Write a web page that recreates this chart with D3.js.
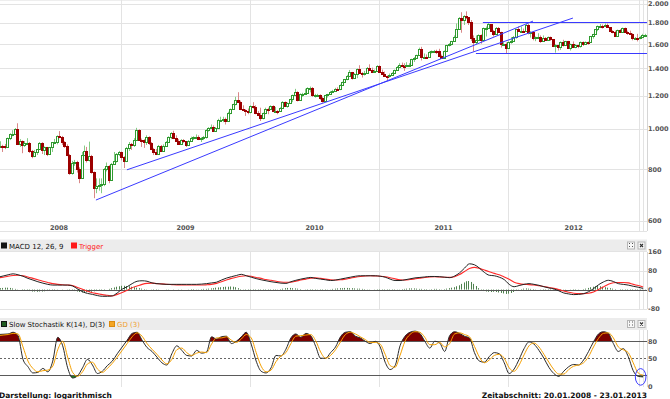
<!DOCTYPE html>
<html>
<head>
<meta charset="utf-8">
<script src="https://cdnjs.cloudflare.com/ajax/libs/d3/7.8.5/d3.min.js"></script>
<style>
  body { margin: 0; background: #fff; }
  svg { display: block; font-family: "DejaVu Sans", Verdana, sans-serif; }
</style>
</head>
<body>
<svg id="chart" width="670" height="399"></svg>
<script>
// weekly candles, one row per week: [open, high, low, close]
const candles2008 = [
  [882,915,866,906],[906,934,900,912],[912,916,880,908],[908,920,894,907],[907,953,902,950],[950,976,940,971],
  [971,993,960,972],[972,1005,968,1001],[1001,1032,915,920],[920,945,905,933],[933,938,874,913],
  [913,935,905,925],[925,950,915,925],[925,930,875,885],[885,890,850,860],
  [860,890,855,880],[880,895,865,893],[893,930,890,924],[924,929,870,888],
  [888,907,865,903],[903,905,860,872],[872,905,868,904],[904,930,880,928],[928,946,920,932],
  [932,965,918,963],[963,988,950,957],[957,962,915,929],[929,935,900,912],
  [912,918,860,864],[864,870,775,785],[785,838,776,828],[828,842,815,833],
  [833,838,785,801],[801,808,740,762],[762,880,760,866],[866,912,860,885],[885,905,830,842],
  [842,932,835,859],[859,866,780,786],[786,790,681,722],[722,760,700,728],
  [728,760,710,734],[734,760,700,738],[738,805,728,800],[800,830,790,815],
  [815,818,740,753],[753,828,750,822],[822,880,820,837],[837,875,830,872],[872,885,860,880]
];
const candles2009 = [
  [880,882,840,854],[854,860,805,836],[836,905,832,900],[900,930,885,920],
  [920,925,890,913],[913,950,905,942],[942,1006,940,995],[995,998,935,942],
  [942,948,905,938],[938,945,900,930],[930,965,915,955],[955,960,915,923],[923,930,895,897],
  [897,900,865,882],[882,895,865,870],[870,915,868,911],[911,915,880,884],
  [884,918,880,912],[912,935,908,930],[930,960,925,956],[956,982,945,979],
  [979,990,945,950],[950,965,930,933],[933,945,915,920],[920,945,915,940],[940,945,925,933],
  [933,935,905,913],[913,940,910,937],[937,958,932,952],[952,960,940,955],
  [955,970,945,957],[957,965,940,947],[947,955,930,950],[950,962,940,955],[955,998,948,996],
  [996,1010,985,1006],[1006,1025,1000,1009],[1009,1020,985,991],[991,1010,985,1003],
  [1003,1058,1000,1050],[1050,1070,1040,1051],[1051,1070,1038,1056],[1056,1065,1025,1045],
  [1045,1100,1040,1095],[1095,1120,1085,1118],[1118,1150,1115,1146],[1146,1195,1140,1177],[1177,1226,1160,1162],
  [1162,1170,1110,1118],[1118,1140,1105,1110],[1110,1115,1075,1105],[1105,1120,1085,1096]
];
const candles2010 = [
  [1096,1140,1090,1138],[1138,1160,1120,1131],[1131,1140,1085,1090],[1090,1105,1075,1083],
  [1083,1125,1045,1064],[1064,1095,1055,1091],[1091,1125,1085,1119],[1119,1125,1085,1117],
  [1117,1140,1112,1134],[1134,1140,1098,1102],[1102,1130,1095,1107],[1107,1110,1085,1104],[1104,1128,1100,1124],
  [1124,1167,1120,1161],[1161,1165,1130,1137],[1137,1158,1125,1154],[1154,1182,1150,1180],
  [1180,1210,1160,1207],[1207,1249,1200,1228],[1228,1232,1165,1177],[1177,1218,1170,1212],[1212,1222,1195,1217],
  [1217,1250,1210,1220],[1220,1260,1215,1256],[1256,1265,1225,1256],[1256,1262,1195,1209],
  [1209,1215,1190,1210],[1210,1215,1195,1210],[1210,1212,1175,1188],[1188,1195,1157,1169],
  [1169,1208,1165,1204],[1204,1215,1190,1215],[1215,1235,1210,1227],[1227,1242,1222,1236],[1236,1256,1235,1247],
  [1247,1260,1240,1246],[1246,1280,1240,1275],[1275,1300,1270,1298],[1298,1320,1290,1318],
  [1318,1350,1310,1345],[1345,1387,1340,1369],[1369,1372,1315,1326],[1326,1362,1320,1358],
  [1358,1398,1325,1394],[1394,1424,1360,1367],[1367,1370,1330,1354],[1354,1380,1345,1362],[1362,1410,1360,1406],
  [1406,1431,1380,1385],[1385,1405,1365,1375],[1375,1390,1370,1380],[1380,1424,1375,1421]
];
const candles2011 = [
  [1421,1424,1365,1369],[1369,1390,1360,1360],[1360,1375,1340,1342],[1342,1345,1309,1341],[1341,1360,1330,1348],
  [1348,1370,1345,1361],[1361,1390,1355,1388],[1388,1418,1385,1409],[1409,1440,1405,1429],
  [1429,1445,1410,1420],[1420,1440,1380,1418],[1418,1448,1415,1428],[1428,1440,1410,1429],
  [1429,1476,1425,1474],[1474,1490,1450,1486],[1486,1510,1484,1504],[1504,1570,1500,1556],
  [1556,1577,1462,1491],[1491,1520,1480,1493],[1493,1512,1480,1492],[1492,1538,1490,1536],[1536,1545,1520,1542],
  [1542,1550,1525,1542],[1542,1552,1515,1539],[1539,1560,1495,1500],[1500,1510,1478,1485],
  [1485,1545,1480,1542],[1542,1595,1540,1591],[1591,1610,1580,1601],[1601,1630,1590,1628],
  [1628,1680,1620,1663],[1663,1795,1660,1744],[1744,1860,1740,1852],[1852,1911,1705,1828],[1828,1880,1780,1876],
  [1876,1920,1840,1856],[1856,1860,1780,1813],[1813,1830,1630,1657],[1657,1680,1535,1623],
  [1623,1680,1600,1636],[1636,1690,1630,1683],[1683,1690,1605,1642],[1642,1755,1640,1747],[1747,1765,1670,1753],
  [1753,1802,1745,1788],[1788,1790,1715,1724],[1724,1730,1670,1697],[1697,1760,1690,1746],
  [1746,1760,1705,1713],[1713,1715,1570,1598],[1598,1625,1590,1606],[1606,1615,1523,1566]
];
const candles2012 = [
  [1566,1625,1560,1617],[1617,1665,1605,1630],[1630,1675,1625,1665],[1665,1740,1650,1737],[1737,1765,1715,1725],
  [1725,1765,1715,1725],[1725,1745,1705,1722],[1722,1790,1720,1776],[1776,1792,1690,1710],
  [1710,1720,1660,1711],[1711,1715,1635,1656],[1656,1670,1627,1662],[1662,1700,1655,1668],
  [1668,1680,1612,1631],[1631,1680,1625,1660],[1660,1665,1630,1642],[1642,1670,1635,1663],[1663,1670,1630,1645],
  [1645,1645,1575,1580],[1580,1600,1527,1592],[1592,1595,1545,1573],[1573,1625,1550,1622],
  [1622,1640,1580,1592],[1592,1630,1585,1626],[1626,1630,1562,1571],[1571,1605,1545,1598],
  [1598,1625,1575,1579],[1579,1600,1565,1590],[1590,1595,1565,1583],[1583,1625,1570,1620],[1620,1625,1585,1605],
  [1605,1625,1600,1621],[1621,1625,1595,1617],[1617,1675,1615,1672],[1672,1695,1650,1690],
  [1690,1740,1685,1737],[1737,1775,1720,1772],[1772,1790,1755,1774],[1774,1785,1745,1772],
  [1772,1796,1765,1780],[1780,1795,1755,1758],[1758,1760,1718,1724],[1724,1730,1700,1712],[1712,1725,1672,1677],
  [1677,1735,1672,1730],[1730,1740,1710,1714],[1714,1755,1710,1751],[1751,1755,1705,1712],
  [1712,1725,1685,1705],[1705,1725,1690,1697],[1697,1700,1635,1657],[1657,1665,1640,1658],[1658,1695,1625,1656]
];
const candles2013 = [
  [1656,1675,1645,1662],[1662,1695,1655,1684],[1684,1695,1675,1686]
];

const yearLabels = ["2008", "2009", "2010", "2011", "2012"];
const priceTicks = [600, 800, 1000, 1200, 1400, 1600, 1800, 2000];
const macdTicks = [-80, 0, 80, 160];
const stochTicks = [0, 50, 80];

// trend lines: [week index, price] -> [week index, price]
const trendLines = [
  [[39.4, 674], [215.6, 1819]],
  [[51.9, 797], [231.7, 1850]]
];
// horizontal levels: [start week index, price]
const levels = [[195.4, 1805], [192.6, 1522]];

// MACD 12,26,9 and trigger, one value every 2 weeks
const macdVals = [
  52,57,62,66,62,56,47,40,33,27, 22,19,19,19,19,15,3,-9,-16,-20,
  -25,-28,-28,-26,-14,2,12,25,35,37, 35,28,25,23,22,22,22,22,22,22,
  22,23,25,28,31,40,48,54,59,64, 58,52,46,41,37,33,30,27,26,33,
  39,44,48,51,47,44,41,38,40,44, 48,52,56,58,58,58,58,56,52,44,
  38,38,41,45,49,51,53,55,55,54, 52,50,57,70,90,108,104,90,72,60,
  58,52,42,22,12,17,22,25,22,18, 12,7,3,-5,-14,-18,-21,-20,-17,-9,
  4,20,32,39,34,25,22,19,14,10,5
];
const triggerVals = [
  49,52,56,59,60,58,53,47,41,35, 30,25,22,20,19,17,9,1,-7,-13,
  -17,-21,-24,-27,-20,-12,-3,8,15,22, 26,27,25,24,22,21,20,20,19,19,
  19,19,20,22,26,33,40,47,52,56, 58,56,51,47,42,39,35,32,31,31,
  35,40,44,48,49,47,44,41,40,41, 44,48,52,55,57,58,57,56,54,50,
  45,41,40,42,45,48,51,53,54,53, 52,51,54,63,76,88,93,89,82,75,
  68,62,53,43,31,25,22,21,19,16, 13,9,5,0,-6,-11,-15,-17,-17,-15,
  -10,0,11,22,29,30,30,28,22,17,11
];
// histogram, one bar per week
const macdHist = [
  5,6,7,8,8,7,5,3,1,0, -2,-3,-5,-6,-8,-8,-9,-8,-8,-7,
  -6,-5,-3,-2,-1,0,1,0,-1,-2, -4,-6,-8,-10,-12,-12,-11,-10,-9,-7,
  -6,-5,-4,-2,0,3,6,9,12,14, 16,16,15,14,12,10,8,6,4,2,
  1,0,-1,-2,-2,-1,0,0,1,1, 0,-1,0,1,1,0,0,1,2,2,
  1,1,2,3,3,4,5,6,8,9, 10,11,12,12,13,12,10,6,2,-1,
  -3,-4,-5,-5,-6,-6,-5,-5,-4,-4, -3,-3,-2,-1,2,4,6,7,7,6,
  5,4,2,0,-1,-2,-2,-3,-2,-1, -2,-3,-2,-1,1,3,4,5,6,6,
  7,7,6,6,5,4,4,3,2,1, 1,0,-1,-3,-4,-5,-6,-5,-4,-3,
  -2,-1,1,2,3,4,5,5,5,4, 3,3,2,2,1,2,3,3,2,1,
  2,4,6,8,10,14,18,24,30,35, 36,32,24,15,6,-3,-6,-8,-9,-10,
  -9,-10,-12,-14,-16,-18,-17,-14,-10,-5, -1,2,4,5,4,3,2,1,0,-1,
  -2,-3,-4,-4,-3,-3,-2,-2,-1,-1, 0,-1,-2,-2,-1,0,2,4,7,10,
  12,14,15,14,12,10,8,6,4,2, 0,-2,-3,-4,-4,-4,-3,-3,-2,-2,
  -1,-1
];

// Slow stochastic K(14) and D(3), one value every 2 weeks
const stochK = [
  92,92.5,93,96,90,48,35,24,25,32, 26,45,87,72,33,15,19,33,48,38,
  23,27,37,45,58,70,82,94,96,82, 69,62,52,42,38,58,72,64,55,54,
  64,59,61,88,84,88,89,76,80,88, 96,75,45,27,24,33,55,54,66,86,
  93,87,94,90,71,50,50,60,70,88, 96,97,89,86,80,76,80,70,43,30,
  37,72,89,96,98,94,80,68,80,77, 62,90,97,94,89,86,60,45,43,53,
  60,58,42,23,31,48,67,79,75,64, 50,34,23,18,27,35,39,38,47,62,
  79,93,97,94,76,62,67,53,28,18,17
];
const stochD = [
  90,91,92,94,93,70,45,32,26,28, 29,36,65,80,52,25,18,26,40,43,
  31,25,32,41,52,64,76,88,95,89, 76,66,57,47,40,48,65,68,60,55,
  59,61,60,75,86,86,88,82,78,84, 92,86,60,36,26,29,44,54,60,76,
  89,90,91,92,81,61,50,55,65,79, 92,96,93,88,83,78,78,75,57,37,
  34,55,80,92,97,96,87,74,74,78, 70,76,93,95,92,88,71,52,42,47,
  55,57,50,33,27,38,56,72,77,70, 57,43,30,22,22,30,36,38,42,53,
  70,85,94,95,86,70,65,60,42,24,20
];

const svg = d3.select("#chart");
const allCandles = [].concat(candles2008, candles2009, candles2010, candles2011, candles2012, candles2013);
const yearCounts = [candles2008, candles2009, candles2010, candles2011, candles2012, candles2013].map(a => a.length);

const plotRight = 647;
const x = d3.scaleLinear().domain([0, 261]).range([-1.8, 645.6]);
const y = d3.scaleLog().domain([600, 2000]).range([221, 4]);
const yM = d3.scaleLinear().domain([-80, 160]).range([308.7, 251.4]);
const yS = d3.scaleLinear().domain([0, 100]).range([386.5, 330]);

const de = d3.formatLocale({ decimal: ",", thousands: ".", grouping: [3], currency: ["", ""], minus: "-" });
const fmt = de.format(",d");

const gridColor = "#e3e3e3";
const axisFont = { size: "6.5px", color: "#555" };

// year boundaries (in week index) and label centers
const boundaries = [];
const centers = [];
let start = 0;
yearCounts.forEach((n, k) => {
  if (k > 0) boundaries.push(start - 0.5);
  centers.push(start + (n - 1) / 2);
  start += n;
});

function vGrid(y0, y1) {
  const g = svg.append("g").attr("stroke", gridColor);
  boundaries.forEach(b => {
    const px = Math.round(x(b)) + 0.5;
    g.append("line").attr("x1", px).attr("x2", px).attr("y1", y0).attr("y2", y1);
  });
  // current-week marker and right frame
  g.append("line").attr("x1", Math.round(x(260)) + 0.5).attr("x2", Math.round(x(260)) + 0.5)
    .attr("y1", y0).attr("y2", y1);
  g.append("line").attr("x1", plotRight + 0.5).attr("x2", plotRight + 0.5)
    .attr("y1", y0).attr("y2", y1).attr("stroke", "#d6d6d6");
}

function axisLabel(val, yy) {
  svg.append("text")
    .attr("x", plotRight + 1)
    .attr("y", yy + 2.4)
    .style("font-size", axisFont.size)
    .style("font-weight", "bold")
    .attr("fill", axisFont.color)
    .text(fmt(val));
}

// === main price panel ===
svg.append("line").attr("x1", 0).attr("x2", plotRight).attr("y1", 0.5).attr("y2", 0.5).attr("stroke", "#eeeeee");
priceTicks.forEach(v => {
  const py = Math.round(y(v)) + 0.5;
  svg.append("line").attr("x1", 0).attr("x2", plotRight).attr("y1", py).attr("y2", py).attr("stroke", gridColor);
  axisLabel(v, y(v));
});
svg.append("line").attr("x1", 0).attr("x2", plotRight).attr("y1", 231.5).attr("y2", 231.5).attr("stroke", gridColor);
vGrid(0, 231);

yearLabels.forEach((t, k) => {
  svg.append("text")
    .attr("x", x(centers[k]))
    .attr("y", 229.5)
    .attr("text-anchor", "middle")
    .style("font-size", axisFont.size)
    .style("font-weight", "bold")
    .attr("fill", axisFont.color)
    .text(t);
});

// candles
const gC = svg.append("g");
allCandles.forEach((d, i) => {
  const [o, h, l, c] = d;
  const px = Math.round(x(i));
  const up = c >= o;
  gC.append("line")
    .attr("x1", px - 0.5).attr("x2", px - 0.5)
    .attr("y1", y(h)).attr("y2", y(l))
    .attr("stroke", up ? "#86cc86" : "#d98888");
  const top = Math.round(y(Math.max(o, c)));
  const bot = Math.round(y(Math.min(o, c)));
  gC.append("rect")
    .attr("x", px - 1.5)
    .attr("y", top + 0.5)
    .attr("width", 2)
    .attr("height", Math.max(bot - top, 1))
    .attr("fill", up ? "#ffffff" : "#9c0000")
    .attr("stroke", up ? "#2f9a2f" : "#9c0000");
});

// trend lines and levels
const gT = svg.append("g").attr("stroke", "#3a3aff").attr("stroke-width", 1).attr("fill", "none");
trendLines.forEach(([a, b]) => {
  gT.append("line")
    .attr("x1", x(a[0])).attr("y1", y(a[1]))
    .attr("x2", x(b[0])).attr("y2", y(b[1]));
});
levels.forEach(([i0, p]) => {
  const py = Math.round(y(p)) + 0.5;
  gT.append("line").attr("x1", x(i0)).attr("x2", plotRight).attr("y1", py).attr("y2", py);
});

// === panel headers ===
function header(top, items) {
  svg.append("rect").attr("x", 0).attr("y", top).attr("width", plotRight).attr("height", 12).attr("fill", "#ececec");
  let cx = 1;
  items.forEach(it => {
    svg.append("rect").attr("x", cx + 0.5).attr("y", top + 3.5).attr("width", 5).attr("height", 5)
      .attr("fill", it.box).attr("stroke", it.border);
    svg.append("text").attr("x", cx + 8).attr("y", top + 9.3)
      .style("font-size", "7px").attr("fill", it.color).text(it.text);
    cx = it.next;
  });
  // small buttons on the right
  [627, 637.5].forEach((bx, k) => {
    svg.append("rect").attr("x", bx + 0.5).attr("y", top + 2.5).attr("width", 7).attr("height", 7)
      .attr("fill", "#f8f8f8").attr("stroke", "#b5b5b5");
    if (k === 0) {
      [[2, 3], [5, 3], [2, 6], [5, 6]].forEach(([dx, dy]) => {
        svg.append("rect").attr("x", bx + dx).attr("y", top + dy + 0.5).attr("width", 1).attr("height", 1).attr("fill", "#555");
      });
    } else {
      svg.append("path")
        .attr("d", `M${bx + 2.5},${top + 4.5}L${bx + 5.5},${top + 7.5}M${bx + 5.5},${top + 4.5}L${bx + 2.5},${top + 7.5}`)
        .attr("stroke", "#333").attr("stroke-width", 1.1);
    }
  });
}

// === MACD panel ===
header(239.5, [
  { box: "#111", border: "#111", color: "#111", text: "MACD 12, 26, 9", next: 71 },
  { box: "#ff1a1a", border: "#ff1a1a", color: "#ff1a1a", text: "Trigger", next: 0 }
]);
macdTicks.forEach(v => {
  const py = Math.round(yM(v)) + 0.5;
  if (v !== 0) svg.append("line").attr("x1", 0).attr("x2", plotRight).attr("y1", py).attr("y2", py).attr("stroke", gridColor);
  axisLabel(v, yM(v));
});
vGrid(252, 309);

const gH = svg.append("g").attr("fill", "#4f824f");
macdHist.forEach((v, i) => {
  const px = Math.round(x(i));
  const y0 = yM(0), y1 = yM(v);
  gH.append("rect").attr("x", px - 1).attr("width", 1)
    .attr("y", Math.min(y0, y1)).attr("height", Math.abs(y1 - y0));
});
svg.append("line").attr("x1", 0).attr("x2", plotRight)
  .attr("y1", Math.round(yM(0)) + 0.5).attr("y2", Math.round(yM(0)) + 0.5).attr("stroke", "#555");

const macdLineGen = d3.line().x((d, j) => x(2 * j)).y(d => yM(d)).curve(d3.curveMonotoneX);
svg.append("path").datum(triggerVals).attr("d", macdLineGen)
  .attr("fill", "none").attr("stroke", "#ff2a2a").attr("stroke-width", 1.1);
svg.append("path").datum(macdVals).attr("d", macdLineGen)
  .attr("fill", "none").attr("stroke", "#222").attr("stroke-width", 1);

// === Stochastic panel ===
header(318, [
  { box: "#1e5a1e", border: "#111", color: "#111", text: "Slow Stochastik K(14), D(3)", next: 109 },
  { box: "#f5a623", border: "#d98a10", color: "#f0a030", text: "GD (3)", next: 0 }
]);
vGrid(330, 387);

const defs = svg.append("defs");
defs.append("clipPath").attr("id", "clipHigh")
  .append("rect").attr("x", 0).attr("y", 330).attr("width", plotRight).attr("height", yS(80) - 330);
defs.append("clipPath").attr("id", "clipLow")
  .append("rect").attr("x", 0).attr("y", yS(20)).attr("width", plotRight).attr("height", 390 - yS(20));

const kx = (d, j) => x(2 * j);
svg.append("path").datum(stochK)
  .attr("clip-path", "url(#clipHigh)")
  .attr("d", d3.area().x(kx).y0(yS(80)).y1(d => yS(d)).curve(d3.curveMonotoneX))
  .attr("fill", "#7d0000");
svg.append("path").datum(stochK)
  .attr("clip-path", "url(#clipLow)")
  .attr("d", d3.area().x(kx).y0(yS(20)).y1(d => yS(d)).curve(d3.curveMonotoneX))
  .attr("fill", "#1f7a1f");

[80, 20].forEach(v => {
  const py = Math.round(yS(v)) + 0.5;
  svg.append("line").attr("x1", 0).attr("x2", plotRight).attr("y1", py).attr("y2", py).attr("stroke", "#5a5a5a");
});
svg.append("line").attr("x1", 0).attr("x2", plotRight)
  .attr("y1", Math.round(yS(50)) + 0.5).attr("y2", Math.round(yS(50)) + 0.5)
  .attr("stroke", "#666").attr("stroke-dasharray", "2,2");
stochTicks.forEach(v => axisLabel(v, yS(v)));

const stochLine = d3.line().x(kx).y(d => yS(d)).curve(d3.curveMonotoneX);
svg.append("path").datum(stochK).attr("d", stochLine)
  .attr("fill", "none").attr("stroke", "#2a2a2a").attr("stroke-width", 1);
svg.append("path").datum(stochD).attr("d", stochLine)
  .attr("fill", "none").attr("stroke", "#f5a000").attr("stroke-width", 1);

// user annotation ellipse on the last low
svg.append("ellipse")
  .attr("cx", x(259)).attr("cy", yS(17))
  .attr("rx", 5.3).attr("ry", 8.3)
  .attr("fill", "none").attr("stroke", "#3a3aff").attr("stroke-width", 1);

// === footer ===
svg.append("text").attr("x", -1).attr("y", 397.5)
  .style("font-size", "7.5px").style("font-weight", "bold").attr("fill", "#111")
  .text("Darstellung: logarithmisch");
svg.append("text").attr("x", plotRight).attr("y", 397.5).attr("text-anchor", "end")
  .style("font-size", "7.5px").style("font-weight", "bold").attr("fill", "#111")
  .text("Zeitabschnitt: 20.01.2008 - 23.01.2013");
</script>
</body>
</html>
